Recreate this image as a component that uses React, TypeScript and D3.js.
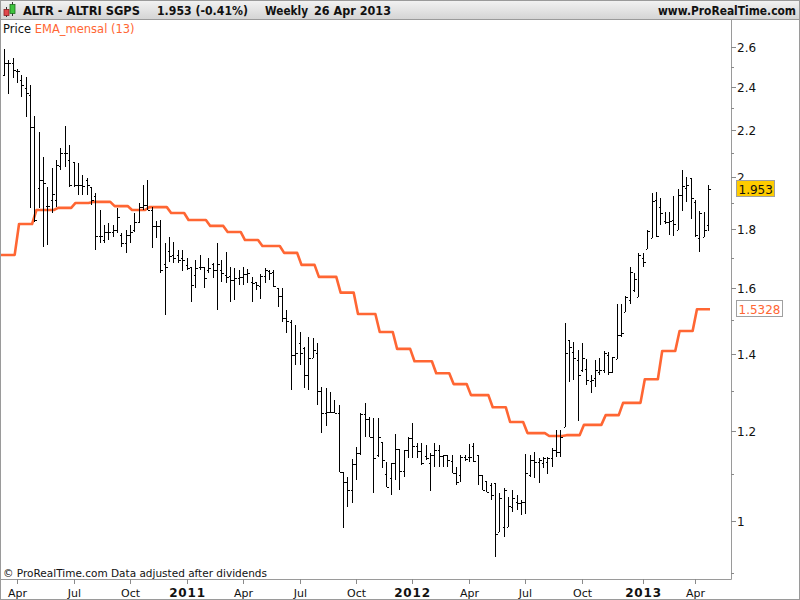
import React, { useEffect, useRef } from 'react';
import * as d3 from 'd3';

// weekly bars, dated by the Monday that opens the week
const firstWeek = '2010-03-15';

const openPrices = [
  2.458, 2.518, 2.518, 2.478, 2.433, 2.394, 2.361, 2.213, 1.957, 1.989,
  1.887, 1.910, 1.910, 2.046, 2.100, 2.071, 2.062, 1.969, 1.969, 1.989,
  1.961, 1.926, 1.776, 1.762, 1.791, 1.791, 1.798, 1.780, 1.752, 1.780,
  1.798, 1.828, 1.883, 1.891, 1.872, 1.813, 1.813, 1.680, 1.723, 1.710,
  1.710, 1.700, 1.676, 1.669, 1.642, 1.669, 1.669, 1.659, 1.680, 1.659,
  1.659, 1.642, 1.640, 1.625, 1.632, 1.636, 1.645, 1.620, 1.619, 1.606,
  1.640, 1.655, 1.652, 1.599, 1.574, 1.506, 1.494, 1.397, 1.433, 1.418,
  1.342, 1.390, 1.403, 1.300, 1.244, 1.246, 1.246, 1.243, 1.104, 1.082,
  1.065, 1.122, 1.147, 1.241, 1.228, 1.185, 1.142, 1.172, 1.100, 1.090,
  1.124, 1.156, 1.106, 1.154, 1.182, 1.163, 1.151, 1.140, 1.124, 1.142,
  1.154, 1.140, 1.142, 1.129, 1.102, 1.097, 1.138, 1.138, 1.163, 1.142,
  1.097, 1.084, 1.075, 1.080, 0.978, 0.988, 0.988, 1.029, 1.039, 1.037,
  1.039, 1.097, 1.131, 1.126, 1.124, 1.126, 1.135, 1.154, 1.149, 1.209,
  1.440, 1.406, 1.383, 1.356, 1.359, 1.326, 1.334, 1.351, 1.356, 1.397,
  1.351, 1.387, 1.455, 1.525, 1.560, 1.593, 1.571, 1.700, 1.730, 1.769,
  1.910, 1.883, 1.831, 1.828, 1.835, 1.798, 1.930, 1.957, 1.997, 1.902,
  1.769, 1.773, 1.816,
];

const highPrices = [
  2.590, 2.533, 2.543, 2.488, 2.458, 2.448, 2.408, 2.263, 2.191, 2.083,
  1.961, 2.037, 2.071, 2.121, 2.218, 2.134, 2.062, 2.058, 2.009, 1.997,
  1.961, 1.938, 1.872, 1.816, 1.824, 1.816, 1.880, 1.787, 1.798, 1.816,
  1.861, 1.899, 1.969, 1.989, 1.883, 1.831, 1.835, 1.752, 1.773, 1.755,
  1.727, 1.727, 1.700, 1.669, 1.693, 1.710, 1.669, 1.700, 1.683, 1.752,
  1.693, 1.720, 1.669, 1.666, 1.659, 1.669, 1.662, 1.636, 1.619, 1.645,
  1.666, 1.659, 1.659, 1.599, 1.599, 1.530, 1.500, 1.485, 1.464, 1.421,
  1.449, 1.446, 1.432, 1.310, 1.307, 1.297, 1.276, 1.264, 1.104, 1.093,
  1.133, 1.161, 1.243, 1.269, 1.233, 1.231, 1.231, 1.172, 1.126, 1.124,
  1.191, 1.156, 1.154, 1.185, 1.219, 1.170, 1.170, 1.166, 1.147, 1.170,
  1.166, 1.142, 1.142, 1.142, 1.115, 1.142, 1.142, 1.168, 1.170, 1.142,
  1.097, 1.084, 1.080, 1.080, 1.058, 1.069, 1.050, 1.065, 1.054, 1.043,
  1.145, 1.142, 1.149, 1.135, 1.138, 1.138, 1.159, 1.201, 1.201, 1.491,
  1.440, 1.435, 1.412, 1.432, 1.387, 1.342, 1.383, 1.388, 1.409, 1.406,
  1.392, 1.549, 1.549, 1.574, 1.669, 1.649, 1.717, 1.717, 1.798, 1.938,
  1.942, 1.918, 1.865, 1.865, 1.926, 1.953, 2.029, 2.000, 1.997, 1.910,
  1.868, 1.865, 1.969,
];

const lowPrices = [
  2.453, 2.366, 2.443, 2.418, 2.351, 2.258, 1.880, 1.828, 1.880, 1.738,
  1.745, 1.861, 1.883, 2.029, 2.042, 1.961, 1.961, 1.930, 1.930, 1.930,
  1.891, 1.727, 1.752, 1.752, 1.762, 1.773, 1.787, 1.738, 1.717, 1.752,
  1.790, 1.824, 1.872, 1.872, 1.735, 1.769, 1.649, 1.515, 1.686, 1.683,
  1.683, 1.656, 1.659, 1.555, 1.599, 1.659, 1.599, 1.649, 1.632, 1.530,
  1.619, 1.616, 1.555, 1.561, 1.609, 1.609, 1.616, 1.555, 1.593, 1.564,
  1.616, 1.626, 1.603, 1.540, 1.494, 1.461, 1.302, 1.370, 1.370, 1.307,
  1.302, 1.388, 1.264, 1.194, 1.211, 1.243, 1.243, 1.104, 0.986, 1.029,
  1.037, 1.086, 1.142, 1.185, 1.185, 1.058, 1.138, 1.113, 1.071, 1.054,
  1.086, 1.065, 1.093, 1.135, 1.135, 1.135, 1.120, 1.131, 1.063, 1.115,
  1.115, 1.115, 1.115, 1.102, 1.075, 1.082, 1.129, 1.126, 1.126, 1.075,
  1.065, 1.061, 1.043, 0.930, 0.978, 0.968, 0.988, 1.018, 1.022, 1.012,
  1.014, 1.093, 1.090, 1.080, 1.113, 1.099, 1.115, 1.138, 1.138, 1.209,
  1.323, 1.329, 1.224, 1.351, 1.315, 1.294, 1.310, 1.342, 1.348, 1.342,
  1.348, 1.387, 1.449, 1.525, 1.549, 1.587, 1.571, 1.669, 1.730, 1.769,
  1.773, 1.816, 1.820, 1.780, 1.776, 1.798, 1.868, 1.903, 1.839, 1.773,
  1.720, 1.773, 1.794,
];

const closePrices = [
  2.518, 2.518, 2.483, 2.478, 2.408, 2.370, 2.213, 1.835, 1.989, 1.977,
  1.887, 1.934, 2.050, 2.100, 2.100, 1.969, 1.969, 1.969, 1.965, 1.969,
  1.910, 1.776, 1.776, 1.791, 1.791, 1.798, 1.846, 1.752, 1.780, 1.791,
  1.828, 1.883, 1.891, 1.872, 1.813, 1.813, 1.659, 1.669, 1.706, 1.700,
  1.693, 1.693, 1.666, 1.609, 1.666, 1.669, 1.632, 1.666, 1.659, 1.680,
  1.649, 1.635, 1.625, 1.632, 1.636, 1.645, 1.649, 1.616, 1.609, 1.639,
  1.659, 1.650, 1.606, 1.574, 1.506, 1.497, 1.397, 1.403, 1.403, 1.342,
  1.390, 1.412, 1.300, 1.244, 1.246, 1.246, 1.243, 1.104, 1.082, 1.065,
  1.122, 1.147, 1.241, 1.228, 1.185, 1.135, 1.185, 1.131, 1.071, 1.124,
  1.156, 1.106, 1.154, 1.182, 1.163, 1.151, 1.124, 1.135, 1.142, 1.154,
  1.140, 1.142, 1.131, 1.102, 1.082, 1.138, 1.133, 1.138, 1.129, 1.097,
  1.065, 1.061, 1.054, 0.974, 1.047, 1.065, 1.031, 1.047, 1.037, 1.039,
  1.102, 1.131, 1.126, 1.131, 1.135, 1.135, 1.154, 1.149, 1.185, 1.403,
  1.421, 1.390, 1.342, 1.390, 1.329, 1.329, 1.356, 1.356, 1.403, 1.351,
  1.392, 1.455, 1.461, 1.571, 1.652, 1.629, 1.710, 1.686, 1.794, 1.906,
  1.776, 1.861, 1.828, 1.831, 1.820, 1.930, 1.965, 1.969, 1.918, 1.780,
  1.861, 1.798, 1.953,
];

// monthly EMA(13), held flat over the weeks of each month
const emaMonths = [
  '2010-03', '2010-04', '2010-05', '2010-06', '2010-07', '2010-08', '2010-09', '2010-10',
  '2010-11', '2010-12', '2011-01', '2011-02', '2011-03', '2011-04', '2011-05', '2011-06',
  '2011-07', '2011-08', '2011-09', '2011-10', '2011-11', '2011-12', '2012-01', '2012-02',
  '2012-03', '2012-04', '2012-05', '2012-06', '2012-07', '2012-08', '2012-09', '2012-10',
  '2012-11', '2012-12', '2013-01', '2013-02', '2013-03', '2013-04',
];
const emaValues = [
  1.710, 1.820, 1.872, 1.880, 1.899, 1.903, 1.887, 1.872,
  1.883, 1.861, 1.835, 1.813, 1.791, 1.762, 1.741, 1.717,
  1.676, 1.636, 1.585, 1.518, 1.464, 1.415, 1.380, 1.347,
  1.318, 1.289, 1.258, 1.221, 1.194, 1.187, 1.189, 1.214,
  1.238, 1.269, 1.331, 1.409, 1.467, 1.5328,
];

const majorTicks = [1, 1.2, 1.4, 1.6, 1.8, 2, 2.2, 2.4, 2.6];
const minorTicks = [0.9, 1.1, 1.3, 1.5, 1.7, 1.9, 2.1, 2.3, 2.5];

const lastPrice = '1.953';
const lastEma = '1.5328';

const FONT = '"DejaVu Sans", sans-serif';
const EMA_COLOR = '#ff6633';

const App: React.FC = () => {
  const svgRef = useRef<SVGSVGElement>(null);

  useEffect(() => {
    if (!svgRef.current) return;
    const svg = d3.select(svgRef.current);
    svg.selectAll('*').remove();

    const width = 800;
    const height = 600;
    const plot = { left: 0, right: 731, top: 20, bottom: 579 };

    const n = closePrices.length;
    const start = d3.timeParse('%Y-%m-%d')(firstWeek) as Date;
    const dates = closePrices.map((_, i) => d3.timeWeek.offset(start, i));

    const x = d3.scaleLinear().domain([0, n - 1]).range([4, 708]);
    const y = d3.scaleLog().domain([0.8897, 2.746]).range([plot.bottom, plot.top]);

    const defs = svg.append('defs');
    const grad = defs.append('linearGradient')
      .attr('id', 'hdr').attr('x1', 0).attr('x2', 0).attr('y1', 0).attr('y2', 1);
    grad.append('stop').attr('offset', '0%').attr('stop-color', '#f3f3f3');
    grad.append('stop').attr('offset', '100%').attr('stop-color', '#d3d3d3');
    defs.append('clipPath').attr('id', 'plotclip')
      .append('rect')
      .attr('x', plot.left + 1).attr('y', plot.top)
      .attr('width', plot.right - plot.left - 1).attr('height', plot.bottom - plot.top);

    svg.append('rect').attr('width', width).attr('height', height).attr('fill', '#fff');

    // header bar
    svg.append('rect').attr('x', 0).attr('y', 0).attr('width', width).attr('height', 20)
      .attr('fill', 'url(#hdr)');
    svg.append('line').attr('x1', 0).attr('x2', width).attr('y1', 19.5).attr('y2', 19.5)
      .attr('stroke', '#9a9a9a');

    // little candle icon
    const icon = svg.append('g');
    icon.append('line').attr('x1', 6.5).attr('x2', 6.5).attr('y1', 7).attr('y2', 17).attr('stroke', '#333');
    icon.append('rect').attr('x', 4).attr('y', 9.5).attr('width', 5).attr('height', 6)
      .attr('fill', '#e0474c').attr('stroke', '#8a1f22').attr('stroke-width', 0.8);
    icon.append('line').attr('x1', 12.5).attr('x2', 12.5).attr('y1', 2).attr('y2', 16).attr('stroke', '#333');
    icon.append('rect').attr('x', 10).attr('y', 4.5).attr('width', 5).attr('height', 9)
      .attr('fill', '#3fc43f').attr('stroke', '#1e6e1e').attr('stroke-width', 0.8);

    const hdrText = (tx: number, t: string, len: number, anchor = 'start') =>
      svg.append('text').attr('x', tx).attr('y', 15).attr('text-anchor', anchor)
        .attr('font-family', FONT).attr('font-size', 12).attr('font-weight', 'bold')
        .attr('textLength', len).attr('lengthAdjust', 'spacingAndGlyphs')
        .attr('fill', '#111').text(t);
    hdrText(23, 'ALTR - ALTRI SGPS', 117);
    hdrText(157, '1.953 (-0.41%)', 91);
    hdrText(265, 'Weekly', 43);
    hdrText(314, '26 Apr 2013', 77);
    hdrText(796, 'www.ProRealTime.com', 138, 'end');

    // legend
    const legend = svg.append('text').attr('x', 3).attr('y', 33)
      .attr('font-family', FONT).attr('font-size', 11.5);
    legend.append('tspan').attr('fill', '#111').text('Price ');
    legend.append('tspan').attr('fill', EMA_COLOR).text('EMA_mensal (13)');

    // frame
    const frame = svg.append('g').attr('stroke', '#9a9a9a').attr('fill', 'none');
    frame.append('line').attr('x1', plot.right + 0.5).attr('x2', plot.right + 0.5)
      .attr('y1', plot.top).attr('y2', plot.bottom + 0.5);
    frame.append('line').attr('x1', 0).attr('x2', plot.right + 0.5)
      .attr('y1', plot.bottom + 0.5).attr('y2', plot.bottom + 0.5);
    frame.append('rect').attr('x', 0.5).attr('y', 0.5).attr('width', width - 1).attr('height', height - 1);

    // y axis
    const yAxis = svg.append('g');
    majorTicks.forEach(v => {
      const yy = Math.round(y(v)) + 0.5;
      yAxis.append('line').attr('x1', plot.right).attr('x2', plot.right + 5)
        .attr('y1', yy).attr('y2', yy).attr('stroke', '#8a8a8a');
      yAxis.append('text').attr('x', plot.right + 6).attr('y', yy + 4.5)
        .attr('font-family', FONT).attr('font-size', 12).attr('fill', '#111')
        .text(d3.format('~g')(v));
    });
    minorTicks.forEach(v => {
      const yy = Math.round(y(v)) + 0.5;
      yAxis.append('line').attr('x1', plot.right).attr('x2', plot.right + 3)
        .attr('y1', yy).attr('y2', yy).attr('stroke', '#8a8a8a');
    });

    // x axis: first week of each quarter
    const monthKey = d3.timeFormat('%Y-%m');
    const xTicks = dates
      .map((d, i) => ({ d, i }))
      .filter(({ d, i }) => i > 0 && d.getMonth() !== dates[i - 1].getMonth() && d.getMonth() % 3 === 0);
    const xAxis = svg.append('g');
    xTicks.forEach(({ d, i }) => {
      const xx = Math.round(x(i)) + 0.5;
      const isYear = d.getMonth() === 0;
      xAxis.append('line').attr('x1', xx).attr('x2', xx)
        .attr('y1', plot.bottom).attr('y2', plot.bottom + 5).attr('stroke', '#8a8a8a');
      xAxis.append('text').attr('x', xx).attr('y', 597).attr('text-anchor', 'middle')
        .attr('font-family', FONT).attr('font-size', isYear ? 12 : 11)
        .attr('font-weight', isYear ? 'bold' : 'normal')
        .attr('letter-spacing', isYear ? 0.8 : 0)
        .attr('fill', '#111')
        .text(isYear ? d3.timeFormat('%Y')(d) : d3.timeFormat('%b')(d));
    });

    svg.append('text').attr('x', 3).attr('y', 577)
      .attr('font-family', FONT).attr('font-size', 11).attr('fill', '#111')
      .attr('textLength', 264).attr('lengthAdjust', 'spacingAndGlyphs')
      .text('\u00a9 ProRealTime.com  Data adjusted after dividends');

    const g = svg.append('g').attr('clip-path', 'url(#plotclip)');

    // EMA step line: flat for each month, diagonal across the week where it changes
    const emaByMonth = new Map(emaMonths.map((m, i) => [m, emaValues[i]]));
    const emaWeekly = dates.map(d => emaByMonth.get(monthKey(d)) as number);
    g.append('path')
      .attr('d', d3.line<number>()
        .x((_, i) => (i === 0 ? 0 : x(i - 1) + 2))
        .y(v => y(v))([emaWeekly[0], ...emaWeekly]) as string)
      .attr('fill', 'none')
      .attr('stroke', EMA_COLOR)
      .attr('stroke-width', 2.6)
      .attr('stroke-linejoin', 'round');

    // OHLC bars
    const bars = g.append('g').attr('stroke', '#000').attr('shape-rendering', 'crispEdges');
    closePrices.forEach((c, i) => {
      const xx = Math.round(x(i));
      bars.append('line').attr('x1', xx + 0.5).attr('x2', xx + 0.5)
        .attr('y1', y(highPrices[i])).attr('y2', y(lowPrices[i]))
        .attr('stroke-width', 1.6);
      const yo = Math.round(y(openPrices[i])) + 0.5;
      const yc = Math.round(y(c)) + 0.5;
      bars.append('line').attr('x1', xx - 1.5).attr('x2', xx).attr('y1', yo).attr('y2', yo);
      bars.append('line').attr('x1', xx + 1).attr('x2', xx + 2.5).attr('y1', yc).attr('y2', yc);
    });

    // last value tags
    const tag = (v: number, label: string, fill: string, stroke: string, color: string, w: number) => {
      const yy = Math.round(y(v));
      svg.append('rect').attr('x', plot.right + 5.5).attr('y', yy - 8.5)
        .attr('width', w).attr('height', 16)
        .attr('fill', fill).attr('stroke', stroke);
      svg.append('text').attr('x', plot.right + 7.5).attr('y', yy + 4.5)
        .attr('font-family', FONT).attr('font-size', 12).attr('fill', color).text(label);
    };
    tag(closePrices[n - 1], lastPrice, '#ffcc00', '#a0a0a0', '#111', 38);
    tag(emaValues[emaValues.length - 1], lastEma, '#ffffff', '#a0a0a0', EMA_COLOR, 46);
  }, []);

  return (
    <svg
      ref={svgRef}
      width={800}
      height={600}
      style={{ position: 'absolute', left: 0, top: 0, display: 'block' }}
    />
  );
};

export default App;
